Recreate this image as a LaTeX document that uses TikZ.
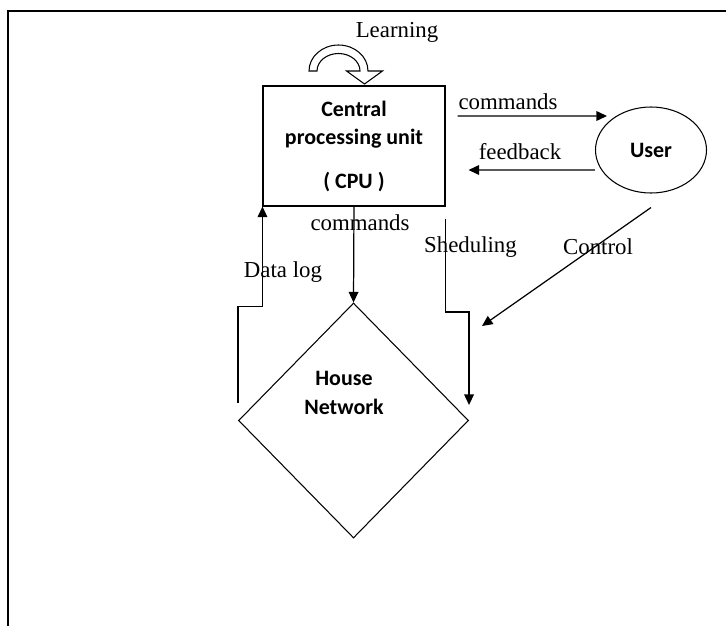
\documentclass[tikz,border=0pt]{standalone}
\usepackage{fontspec}
\setmainfont{Liberation Serif}
\newfontfamily\boxfont{Carlito}
\usepackage{tikz}
\usetikzlibrary{arrows.meta, positioning, shapes.geometric, calc}
\tikzset{%
	cpu box/.style={
		draw,
		line width=0.6pt,
		minimum width=3.64cm,
		minimum height=2.4cm,
		align=center,
		font=\boxfont\bfseries\fontsize{12.5}{16}\selectfont
	},
	user node/.style={
		ellipse,
		draw,
		line width=0.6pt,
		minimum width=2.22cm,
		minimum height=1.72cm,
		font=\boxfont\bfseries\fontsize{12.5}{16}\selectfont
	},
	house node/.style={
		diamond,
		draw,
		line width=0.6pt,
		inner sep=0pt,
		minimum width=4.6cm,
		minimum height=4.7cm
	},
	house text/.style={
		align=center,
		font=\boxfont\bfseries\fontsize{12.5}{16}\selectfont
	},
	word/.style={
		inner sep=1pt,
		font=\fontsize{13}{15}\selectfont
	},
	flow/.style={
		-{Triangle[length=6pt,width=5.5pt]},
		line width=0.7pt
	},
}

\begin{document}
\begin{tikzpicture}
			\useasboundingbox (0,0) rectangle (14.52,-12.52);
			
			% Draw the frame
			\draw[line width=0.8pt] (0.16,-12.52) -- (0.16,-0.22) -- (14.52,-0.22);
			
			% Draw the nodes
			\node[cpu box] (cpu) at (7.08,-2.92) {Central\\processing unit\\[9pt]( CPU )};
			\node[user node] (user) at (13.02,-3.00) {User};
			\node[house node] (house) at (7.07,-8.41) {};
			\node[house text] (housetxt) at (6.88,-7.86) {House\\Network};
			
			% Draw the learning loop
			\draw[line width=0.6pt, fill=white] (6.18,-1.42) arc (180:0:0.59 and 0.52)
				-- (7.65,-1.42) -- (7.29,-1.68) -- (6.93,-1.42) -- (7.20,-1.42)
				arc (0:180:0.43 and 0.35) -- cycle;
			\node[word] (learning) at (7.94,-0.64) {Learning};
			
			% Draw the arrows between cpu and user
			\draw[flow] ([shift={(0.24,0.6)}]cpu.east) -- ([shift={(0.24,0.68)}]user.west);
			\node[word] (cmdtop) at (10.16,-2.04) {commands};
			\draw[flow] ([yshift=-0.4cm]user.west) -- ([shift={(0.46,-0.48)}]cpu.east);
			\node[word] (feedback) at (10.40,-3.04) {feedback};
			
			% Draw the control arrow
			\coordinate (ctrlend) at (9.64,-6.52);
			\draw[flow] ([yshift=-0.28cm]user.south) -- (ctrlend);
			\node[word] (control) at (11.96,-4.94) {Control};
			
			% Draw the arrows between cpu and house
			\draw[flow] (cpu.south) -- (house.north);
			\node[word] (cmdlow) at (7.20,-4.46) {commands};
			\draw[flow] ([yshift=0.36cm]house.west) |- ($(cpu.south west)+(0,-2)$) -- (cpu.south west);
			\node[word] (datalog) at (5.66,-5.44) {Data log};
			\draw[flow] ([yshift=-0.24cm]cpu.south east) |- ([yshift=2.17cm]house.east) -- ([yshift=0.31cm]house.east);
			\node[word] (sheduling) at (9.41,-4.94) {Sheduling};
			
		\end{tikzpicture}
\end{document}
